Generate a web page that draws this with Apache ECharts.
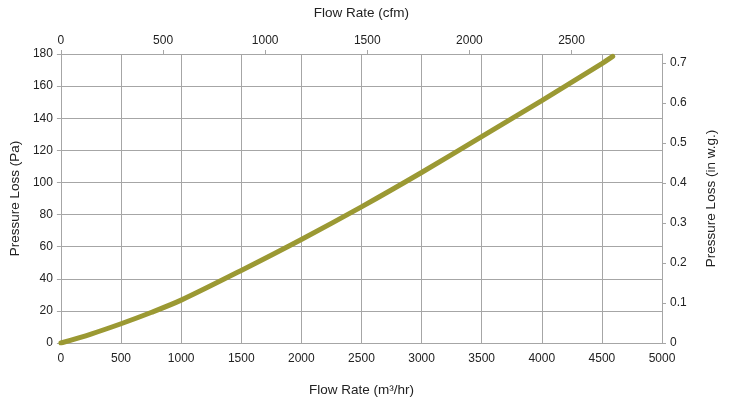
<!DOCTYPE html>
<html>
<head>
<meta charset="utf-8">
<script src="https://cdn.jsdelivr.net/npm/echarts@6/dist/echarts.min.js"></script>
<style>html,body{margin:0;padding:0;background:#fff}#c{width:734px;height:402px}</style>
</head>
<body>
<div id="c"></div>
<script>
// Flow rate (m³/hr) and pressure loss (Pa)
const flowM3h = [0, 250, 500, 750, 1000, 1500, 2000, 2500, 3000, 3500, 4000, 4500, 4590];
const lossPa  = [0, 5.6, 12, 19, 26.7, 45.2, 64.5, 84.8, 106.2, 128.5, 151, 174, 178.5];
const M3H_PER_CFM = 1.699;
const PA_PER_INWG = 249.09;

const chart = echarts.init(document.getElementById('c'));
const font = 'Liberation Sans, Arial, sans-serif';
const axisGrey = '#a6a6a6';
const intFmt = v => String(Math.round(v));
chart.setOption({
  animation: false,
  textStyle: { fontFamily: font },
  grid: { left: 60, right: 72, top: 54, bottom: 56 },
  xAxis: [
    {
      type: 'value', position: 'bottom', min: 0, max: 5000, interval: 500,
      name: 'Flow Rate (m³/hr)', nameLocation: 'middle', nameGap: 40,
      nameTextStyle: { fontSize: 13.5, color: '#222', fontFamily: font },
      axisLine: { show: true, onZero: false, lineStyle: { color: axisGrey } },
      axisTick: { show: false },
      axisLabel: { fontSize: 12, color: '#222', margin: 10, formatter: intFmt },
      splitLine: { show: true, lineStyle: { color: axisGrey, width: 1 } }
    },
    {
      type: 'value', position: 'top', min: 0, max: 5000 / M3H_PER_CFM, interval: 500,
      name: 'Flow Rate (cfm)', nameLocation: 'middle', nameGap: 34,
      nameTextStyle: { fontSize: 13.5, color: '#222', fontFamily: font },
      axisLine: { show: true, onZero: false, lineStyle: { color: axisGrey } },
      axisTick: { show: true, length: 4, lineStyle: { color: axisGrey } },
      axisLabel: { fontSize: 12, color: '#222', margin: 7, showMaxLabel: false, formatter: intFmt },
      splitLine: { show: false }
    }
  ],
  yAxis: [
    {
      type: 'value', position: 'left', min: 0, max: 180, interval: 20,
      name: 'Pressure Loss (Pa)', nameLocation: 'middle', nameGap: 36,
      nameTextStyle: { fontSize: 13.5, color: '#222', fontFamily: font },
      axisLine: { show: true, onZero: false, lineStyle: { color: axisGrey } },
      axisTick: { show: true, length: 4, lineStyle: { color: axisGrey } },
      axisLabel: { fontSize: 12, color: '#222', margin: 8, formatter: intFmt },
      splitLine: { show: true, lineStyle: { color: axisGrey, width: 1 } }
    },
    {
      type: 'value', position: 'right', min: 0, max: 180 / PA_PER_INWG, interval: 0.1,
      name: 'Pressure Loss (in w.g.)', nameLocation: 'middle', nameGap: 42,
      nameTextStyle: { fontSize: 13.5, color: '#222', fontFamily: font },
      axisLine: { show: true, onZero: false, lineStyle: { color: axisGrey } },
      axisTick: { show: true, length: 4, lineStyle: { color: axisGrey } },
      axisLabel: { fontSize: 12, color: '#222', margin: 8, showMaxLabel: false,
        formatter: v => (Math.round(v * 10) / 10).toString() },
      splitLine: { show: false }
    }
  ],
  series: [{
    type: 'line', xAxisIndex: 0, yAxisIndex: 0,
    data: flowM3h.map((x, i) => [x, lossPa[i]]),
    smooth: 0.3, showSymbol: false,
    lineStyle: { color: '#9b9933', width: 5, cap: 'round' }
  }]
});
</script>
</body>
</html>
